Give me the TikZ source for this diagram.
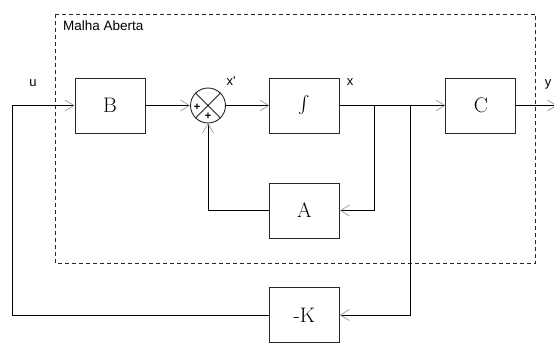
\documentclass[tikz,border=0pt]{standalone}
\usepackage{exscale}
\usepackage{fontspec}
\newfontfamily\lblfont{Liberation Sans}
\usetikzlibrary{arrows.meta}
\begin{document}
\begin{tikzpicture}[x=1pt,y=-1pt,
  blk/.style={draw=black!85,line width=0.9pt,minimum width=70pt,minimum height=55pt,inner sep=0pt,font=\fontsize{21}{24}\selectfont},
  lbl/.style={font=\lblfont\fontsize{13}{15}\selectfont,inner sep=0pt},
  wire/.style={draw=black,line width=1pt},
  arr/.style={wire,-{Straight Barb[length=9pt,width=11pt,line width=0.6pt,color=black!45]}},
  openloop/.style={draw=black!85,line width=1pt,dash pattern=on 4pt off 3pt}
]
\useasboundingbox (0,0) rectangle (554,343);
\fill[white] (0,0) rectangle (554,343);
% open-loop frame
\draw[openloop] (55.7,14) rectangle (535.7,263.7);
\node[lbl,anchor=west,font=\lblfont\fontsize{13.5}{15}\selectfont] (title) at (63,25.5) {Malha Aberta};
% blocks
\node[blk] (B) at (110,105.5) {B};
\node[blk] (I) at (304.7,105.5) {\fontsize{17}{20}\selectfont$\int$};
\node[blk] (C) at (480.8,105.5) {C};
\node[blk] (A) at (304.5,210.5) {A};
\node[blk] (K) at (304.3,315) {-K};
% summing junction
\node[circle,draw=black!85,line width=0.9pt,minimum size=35pt,inner sep=0pt] (S) at (208,105.5) {};
\draw[black!85,line width=0.8pt] (S.north west) -- (S.south east) (S.north east) -- (S.south west);
\node[font=\lblfont\bfseries\fontsize{11}{12}\selectfont,inner sep=0pt] (p1) at (197,107) {+};
\node[font=\lblfont\bfseries\fontsize{11}{12}\selectfont,inner sep=0pt] (p2) at (208,116.5) {+};
% labels
\node[lbl] (u) at (33,83) {u};
\node[lbl] (xp) at (231,81) {x'};
\node[lbl] (x) at (350,82) {x};
\node[lbl] (y) at (548,84) {y};
% helper coordinates
\coordinate (j1) at (374.5,105.5);
\coordinate (j2) at (410.5,105.5);
\coordinate (lft) at (12.3,105.5);
\coordinate (out) at (557,105.5);
% wires
\draw[arr] (K.west) -| (lft) -- (B.west);
\draw[arr] (B.east) -- (S.west);
\draw[arr] (S.east) -- (I.west);
\draw[arr] (I.east) -- (C.west);
\draw[arr] (C.east) -- (out);
\draw[arr] (j1) |- (A.east);
\draw[arr] (A.west) -| (S.south);
\draw[arr] (j2) |- (K.east);
\end{tikzpicture}
\end{document}
